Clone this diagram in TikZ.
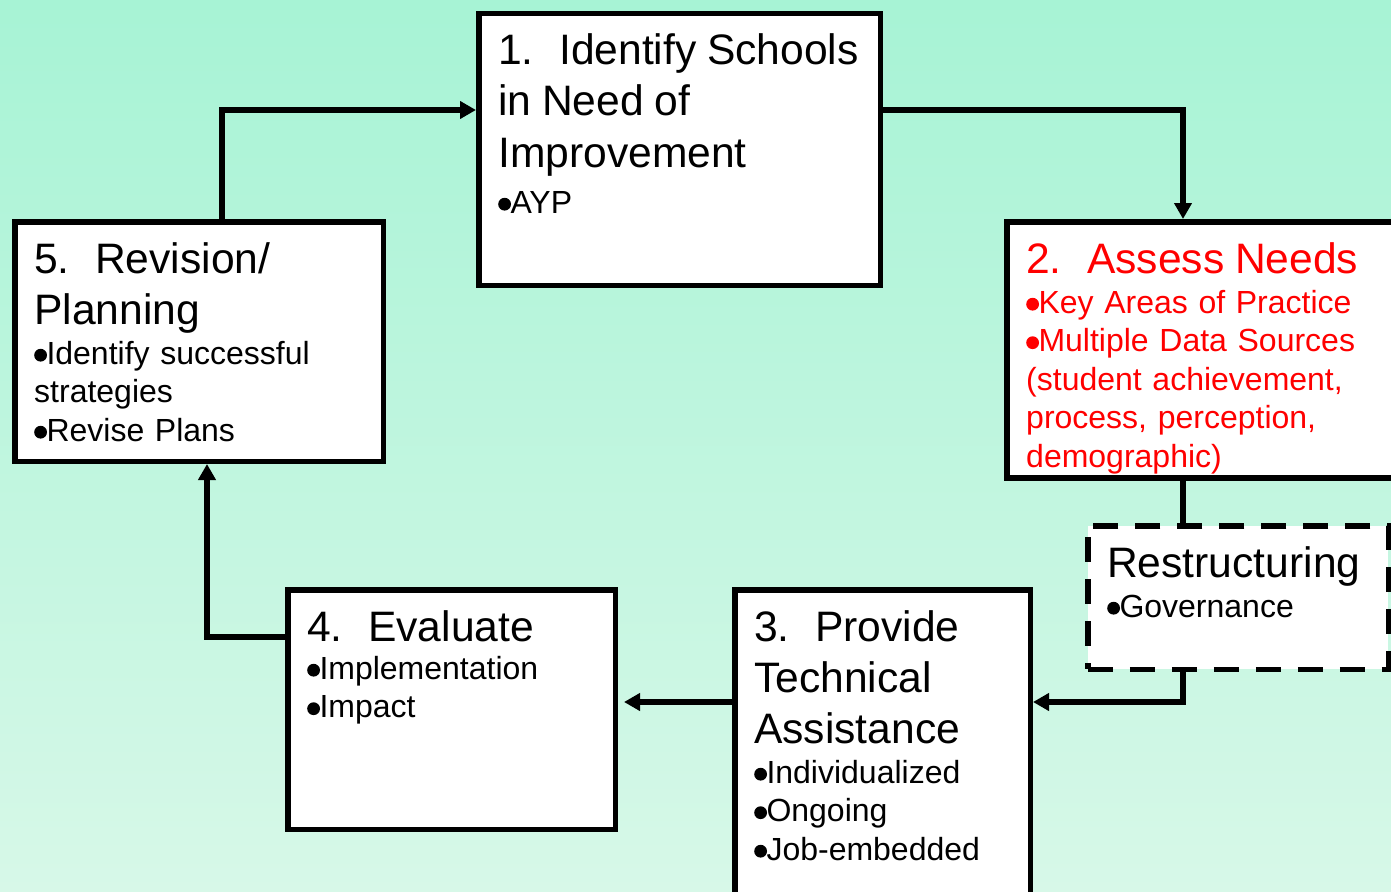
\documentclass[tikz,border=0pt]{standalone}
\usepackage{fontspec}
\setmainfont{Liberation Sans}
\usetikzlibrary{arrows.meta}

\definecolor{mintTop}{RGB}{167,243,213}
\definecolor{mintBottom}{RGB}{215,248,232}
\newcommand\headsize{\fontsize{42.6}{51}\selectfont}
\newcommand\itemsize{\fontsize{32}{38.5}\selectfont}
% big round bullet sitting low on the line
\newcommand\bul{\tikz[baseline=0pt, x=1pt, y=1pt] \fill (6.4,8.8) circle[radius=6.4pt];\hspace{-0.5pt}}
\newcommand\stepno[1]{#1.\hspace{25.5pt}}

\begin{document}
\begin{tikzpicture}[x=1pt, y=-1pt,
	stage/.style={draw, fill=white, line width=5.5pt, anchor=north west, inner sep=0pt},
	stagetext/.style={anchor=base west, inner sep=0pt, text width=440pt, align=left, font=\itemsize},
	link/.style={line width=5.5pt, -{Triangle[length=16pt,width=17pt]}}]
	\useasboundingbox (0,0) rectangle (1391,891);
	\clip (0,0) rectangle (1391,891);
	\shade[top color=mintTop, bottom color=mintBottom] (0,0) rectangle (1391,891);

	% the five stages and the restructuring box
	\node[stage, minimum width=401.5pt, minimum height=271.5pt] (b1) at (476,11) {};
	\node[stage, minimum width=420pt, minimum height=256pt] (b2) at (1004,219) {};
	\node[stage, dash pattern=on 25pt off 17pt, minimum width=300.5pt, minimum height=143.5pt] (rs) at (1085,523) {};
	\node[stage, minimum width=295.5pt, minimum height=320pt] (b3) at (732,587) {};
	\node[stage, minimum width=327.5pt, minimum height=239.5pt] (b4) at (285,587) {};
	\node[stage, minimum width=368.5pt, minimum height=239.5pt] (b5) at (12,219) {};

	% connectors
	\draw[link] (222,0 |- b5.north) |- (b1.west |- 0,110);
	\draw[link] (b1.east |- 0,110) -| (1183,0 |- b2.north);
	\draw[line width=5.5pt] (1183,0 |- b2.south) -- (1183,0 |- rs.north);
	\draw[link] (1183,0 |- rs.south) |- (b3.east |- 0,702);
	\draw[link, shorten >=6pt] (b3.west |- 0,702) -- (b4.east |- 0,702);
	\draw[link] (b4.west |- 0,637) -| (207,0 |- b5.south);

	% texts
	\node[stagetext] (t1) at ([shift={(22,54)}]b1.north west) {{\headsize \stepno{1}Identify Schools\\in Need of\\Improvement\par}\vspace{7.5pt}\bul AYP};
	\node[stagetext, text=red] (t2) at ([shift={(22,54)}]b2.north west) {{\headsize \stepno{2}Assess Needs\par}\vspace{1.5pt}\bul Key Areas of Practice\\\bul Multiple Data Sources\\(student achievement,\\process, perception,\\demographic)};
	\node[stagetext] (trs) at ([shift={(22,54)}]rs.north west) {{\headsize Restructuring\par}\vspace{1.5pt}\bul Governance};
	\node[stagetext] (t3) at ([shift={(22,54)}]b3.north west) {{\headsize \stepno{3}Provide\\Technical\\Assistance\par}\vspace{1.5pt}\bul Individualized\\\bul Ongoing\\\bul Job-embedded};
	\node[stagetext] (t4) at ([shift={(22,54)}]b4.north west) {{\headsize \stepno{4}Evaluate\par}\vspace{-0.5pt}\bul Implementation\\\bul Impact};
	\node[stagetext] (t5) at ([shift={(22,54)}]b5.north west) {{\headsize \stepno{5}Revision/\\Planning\par}\vspace{1.5pt}\bul Identify successful\\strategies\\\bul Revise Plans};
\end{tikzpicture}
\end{document}
